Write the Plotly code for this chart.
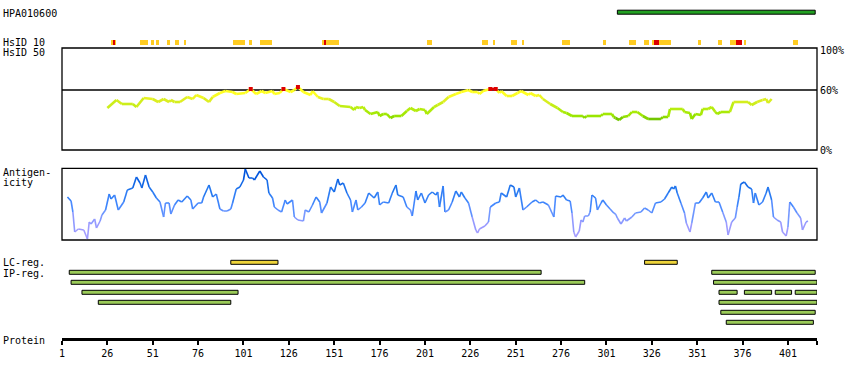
import plotly.graph_objects as go

# ---------------- data ----------------
protein_length = 417
tick_residues = [1, 26, 51, 76, 101, 126, 151, 176, 201, 226, 251, 276, 301, 326, 351, 376, 401]

hpa_name = "HPA010600"
hpa_start = [307]
hpa_end = [416]

hsid10_start = [28, 44, 50, 53, 59, 63, 68, 95, 104, 110, 144, 202, 232.6, 238.7, 248.6,
                254.7, 276.7, 299.3, 313.6, 321.4, 326.3, 351.7, 362.7, 368.8, 376.5, 403.5]
hsid10_end = [31, 48.4, 51.7, 54.5, 60.6, 65.5, 69.4, 101.9, 105.8, 116.8, 153.7, 205, 235.9, 239.8, 251.9,
              255.7, 281.1, 301, 317, 324.2, 336.3, 353.3, 364.4, 375.9, 378.1, 406.3]
hsid10_red_start = [29.1, 145.5, 327.4, 372.6]
hsid10_red_end = [30.2, 146.6, 330.2, 375.4]

hsid50_pos = [26, 31, 34, 40, 42, 46, 51, 54, 57, 60, 61, 63, 66, 70, 73, 75, 79, 82, 84, 88, 91, 95, 97,
              102, 105, 108, 111, 113, 117, 118, 121, 123, 127, 129, 131, 134, 138, 139, 142, 145, 148,
              151, 154, 160, 162, 163, 165, 167, 168, 171, 175, 176, 178, 180, 182, 184, 188, 191, 193,
              196, 198, 201, 202, 206, 208, 211, 214, 218, 221, 225, 227, 230, 231, 233, 237, 240, 242,
              243, 246, 249, 252, 254, 258, 259, 262, 264, 266, 270, 274, 277, 279, 282, 288, 289, 290,
              298, 299, 304, 305, 306, 308, 310, 313, 315, 318, 321, 324, 331, 332, 335, 336, 343, 344,
              347, 348, 350, 353, 354, 357, 359, 361, 362, 364, 369, 371, 379, 381, 384, 387, 389, 390, 392]
hsid50_pct = [42, 50, 46, 46, 43, 52, 51, 48, 51, 48, 50, 48, 48, 53, 51, 55, 52, 48, 53, 57, 59, 58, 56,
              57, 61, 56, 59, 57, 59, 56, 57, 61, 58, 60, 63, 58, 55, 59, 53, 51, 51,
              48, 44, 43, 40, 43, 42, 43, 40, 36, 38, 34, 36, 36, 32, 34, 34, 39, 42,
              39, 41, 40, 36, 43, 45, 48, 53, 56, 58, 60, 58, 58, 56, 59, 61, 61, 57,
              59, 54, 54, 57, 59, 55, 57, 54, 55, 51, 46, 42, 38, 37, 34, 34, 32, 34,
              34, 36, 36, 33, 32, 30, 33, 34, 38, 38, 34, 31, 31, 33, 33, 41, 41, 38,
              37, 31, 36, 35, 41, 41, 43, 38, 36, 38, 38, 48, 48, 45, 48, 50, 51, 47, 51]

antigen_pos = [4, 6, 7, 8, 10, 13, 15, 16, 17, 19, 20, 22, 23, 25, 27, 28, 30, 32, 35, 37, 40, 42, 44, 45,
               47, 49, 51, 53, 55, 57, 58, 60, 61, 63, 65, 67, 70, 72, 73, 76, 78, 79, 82, 84, 86, 88,
               90, 92, 94, 95, 97, 99, 101, 102, 104, 106, 107, 110, 112, 114, 115, 117, 118, 120, 122,
               124, 125, 128, 129, 131, 134, 135, 137, 139, 141, 143, 144, 147, 149, 151, 153, 154, 156,
               158, 160, 161, 163, 164, 166, 168, 170, 173, 175, 176, 178, 181, 183, 185, 186, 189, 191,
               193, 194, 196, 197, 199, 201, 203, 205, 207, 208, 209, 211, 212, 214, 216, 218, 220, 221,
               223, 225, 227, 229, 230, 231, 234, 236, 237, 240, 242, 243, 246, 248, 250, 251, 253, 255,
               257, 260, 262, 264, 266, 269, 272, 273, 276, 277, 279, 281, 282, 283, 284, 286, 287, 288,
               289, 291, 292, 293, 295, 296, 298, 299, 301, 303, 305, 306, 307, 309, 311, 312, 315, 317,
               320, 322, 324, 326, 328, 331, 333, 335, 337, 338, 339, 340, 342, 344, 345, 347, 348, 350,
               352, 354, 356, 357, 359, 361, 363, 365, 367, 368, 370, 372, 373, 374, 375, 377, 379, 381,
               382, 383, 385, 387, 389, 390, 392, 393, 395, 397, 398, 400, 401, 402, 404, 406, 408, 409,
               411, 412]
antigen_val = [43, 39, 28, 8, 11, 10, 1, 18, 16, 21, 12, 19, 25, 30, 46, 41, 45, 30, 38, 50, 52, 63, 57, 52,
               65, 53, 48, 42, 38, 23, 37, 37, 26, 35, 40, 38, 44, 40, 31, 37, 37, 43, 55, 43, 46, 31,
               29, 29, 31, 37, 51, 53, 60, 71, 62, 62, 60, 69, 63, 60, 47, 42, 33, 30, 28,
               40, 36, 40, 23, 20, 19, 30, 28, 35, 43, 38, 27, 37, 53, 48, 61, 55, 57,
               47, 40, 28, 40, 30, 33, 37, 47, 42, 48, 35, 38, 37, 47, 55, 45, 43, 33,
               30, 24, 49, 40, 47, 37, 45, 48, 45, 48, 33, 54, 28, 30, 38, 49, 43, 48,
               42, 37, 23, 10, 7, 11, 14, 18, 33, 37, 38, 47, 43, 55, 53, 43, 52, 30,
               33, 38, 40, 37, 38, 35, 23, 44, 43, 45, 40, 39, 27, 8, 3, 9, 20, 18,
               24, 24, 28, 45, 42, 30, 37, 40, 35, 31, 27, 26, 22, 16, 22, 19, 23, 27,
               28, 32, 30, 27, 37, 38, 41, 47, 53, 51, 54, 47, 37, 27, 17, 8, 17, 37,
               37, 42, 48, 42, 47, 38, 38, 28, 18, 5, 18, 22, 33, 43, 56, 58, 53, 51,
               37, 47, 35, 38, 47, 53, 40, 23, 20, 18, 8, 4, 13, 38, 33, 27, 22, 10,
               18, 19]

lc_start = [94, 322]
lc_end = [120, 340]

ip_row = [1, 1, 2, 2, 3, 3, 3, 3, 3, 4, 4, 5, 6]
ip_start = [5, 359, 6, 360, 12, 363, 377, 394, 405, 21, 363, 364, 367]
ip_end = [265, 416, 289, 417, 98, 373, 392, 403, 417, 94, 417, 416, 415]

pct_ticks = [0, 60, 100]
pct_labels = ["0%", "60%", "100%"]

# ---------------- styling helpers ----------------
FONT = "DejaVu Sans Mono"
W, H = 850, 380


def interp(stops, v):
    if v <= stops[0][0]:
        c = stops[0][1]
    elif v >= stops[-1][0]:
        c = stops[-1][1]
    else:
        for (v0, c0), (v1, c1) in zip(stops[:-1], stops[1:]):
            if v0 <= v <= v1:
                t = (v - v0) / (v1 - v0)
                c = tuple(round(a + (b - a) * t) for a, b in zip(c0, c1))
                break
    return "rgb(%d,%d,%d)" % c


hs_stops = [(30, (0x66, 0xBB, 0x00)), (34, (0x99, 0xE6, 0x00)), (42, (0xBB, 0xEE, 0x11)),
            (50, (0xDD, 0xEE, 0x22)), (56, (0xFF, 0xFF, 0x22)), (60, (0xFF, 0xFF, 0x22))]
ag_stops = [(0, (0xAA, 0xA0, 0xFF)), (15, (0x99, 0x99, 0xFF)), (25, (0x77, 0x99, 0xFF)),
            (35, (0x44, 0x88, 0xFF)), (50, (0x22, 0x77, 0xEE)), (65, (0x00, 0x55, 0xDD))]

fig = go.Figure()

# track rows (track axis: 1 unit = 10 px, 0 at top)
ROW_HPA = 1.22
ROW_H10 = 4.25
ROW_LC = 26.23
ROW_IP0 = 27.23

fig.add_trace(go.Bar(orientation="h", y=[ROW_HPA] * len(hpa_start),
                     x=[e - s for s, e in zip(hpa_start, hpa_end)], base=hpa_start,
                     width=0.4, marker=dict(color="#22A022", line=dict(color="black", width=1)),
                     xaxis="x", yaxis="y"))
fig.add_trace(go.Bar(orientation="h", y=[ROW_H10] * len(hsid10_start),
                     x=[e - s for s, e in zip(hsid10_start, hsid10_end)], base=hsid10_start,
                     width=0.5, marker=dict(color="#FFCC22", line=dict(width=0)),
                     xaxis="x", yaxis="y"))
fig.add_trace(go.Bar(orientation="h", y=[ROW_H10] * len(hsid10_red_start),
                     x=[e - s for s, e in zip(hsid10_red_start, hsid10_red_end)], base=hsid10_red_start,
                     width=0.5, marker=dict(color="#DD0000", line=dict(width=0)),
                     xaxis="x", yaxis="y"))
fig.add_trace(go.Bar(orientation="h", y=[ROW_LC] * len(lc_start),
                     x=[e - s for s, e in zip(lc_start, lc_end)], base=lc_start,
                     width=0.4, marker=dict(color="#EED43A", line=dict(color="black", width=1)),
                     xaxis="x", yaxis="y"))
fig.add_trace(go.Bar(orientation="h", y=[ROW_IP0 + r - 1 for r in ip_row],
                     x=[e - s for s, e in zip(ip_start, ip_end)], base=ip_start,
                     width=0.4, marker=dict(color="#9ACA58", line=dict(color="black", width=1)),
                     xaxis="x", yaxis="y"))

# HsID 50 curve (segment colours by value)
for i in range(len(hsid50_pos) - 1):
    v = (hsid50_pct[i] + hsid50_pct[i + 1]) / 2
    both_red = hsid50_pct[i] > 60.5 and hsid50_pct[i + 1] > 60.5
    col = "#DD0000" if both_red else interp(hs_stops, min(v, 60))
    fig.add_trace(go.Scatter(x=hsid50_pos[i:i + 2], y=hsid50_pct[i:i + 2], mode="lines",
                             line=dict(color=col, width=2.6), xaxis="x", yaxis="y2"))
red_x = [p for p, v in zip(hsid50_pos, hsid50_pct) if v > 60.5]
red_y = [v for v in hsid50_pct if v > 60.5]
fig.add_trace(go.Scatter(x=red_x, y=red_y, mode="markers",
                         marker=dict(color="#DD0000", size=4, symbol="square"), xaxis="x", yaxis="y2"))

# Antigenicity curve
for i in range(len(antigen_pos) - 1):
    v = (antigen_val[i] + antigen_val[i + 1]) / 2
    fig.add_trace(go.Scatter(x=antigen_pos[i:i + 2], y=antigen_val[i:i + 2], mode="lines",
                             line=dict(color=interp(ag_stops, v), width=1.6),
                             xaxis="x", yaxis="y3"))

# ---------------- layout ----------------
tickvals = tick_residues + [protein_length]
ticktext = [str(t) for t in tick_residues] + [""]

fig.update_layout(
    template="none",
    width=W, height=H, margin=dict(l=0, r=0, t=0, b=0, pad=0), autosize=False,
    paper_bgcolor="white", plot_bgcolor="rgba(0,0,0,0)",
    showlegend=False, barmode="overlay", bargap=0, hovermode=False,
    font=dict(family=FONT, size=10, color="black"),
    xaxis=dict(domain=[62 / W, 817 / W], range=[1, protein_length], anchor="free",
               position=1 - 339 / H, showline=True, linecolor="black", linewidth=3,
               ticks="outside", ticklen=4, tickwidth=2, tickcolor="black", automargin=False,
               tickvals=tickvals, ticktext=ticktext, showgrid=False, zeroline=False,
               tickfont=dict(family=FONT, size=10, color="black")),
    yaxis=dict(domain=[0, 1], range=[38, 0], visible=False, automargin=False),
    yaxis2=dict(domain=[1 - 150 / H, 1 - 48 / H], range=[0, 102], anchor="x", side="right",
                tickvals=pct_ticks, ticktext=pct_labels, ticks="", showgrid=False, zeroline=False,
                showline=False, ticklabelstandoff=2, automargin=False,
                tickfont=dict(family=FONT, size=10, color="black")),
    yaxis3=dict(domain=[1 - 240 / H, 1 - 168.3 / H], range=[0, 71.7], visible=False, automargin=False),
)

shapes = [
    dict(type="rect", xref="x domain", yref="y2 domain", x0=0, x1=1, y0=0, y1=1,
         line=dict(color="black", width=1.3), layer="below"),
    dict(type="line", xref="x domain", yref="y2", x0=0, x1=1, y0=60, y1=60,
         line=dict(color="black", width=1.3), layer="below"),
    dict(type="rect", xref="x domain", yref="y3 domain", x0=0, x1=1, y0=0, y1=1,
         line=dict(color="black", width=1.3), layer="below"),
]
fig.update_layout(shapes=shapes)

labels = [(hpa_name, 1.3), ("HsID 10", 4.2), ("HsID 50", 5.2), ("Antigen-", 17.25), ("icity", 18.25),
          ("LC-reg.", 26.25), ("IP-reg.", 27.3), ("Protein", 34.0)]
for txt, yy in labels:
    fig.add_annotation(text=txt, xref="paper", yref="y", x=2 / W, y=yy, xanchor="left",
                       yanchor="middle", showarrow=False, borderpad=0,
                       font=dict(family=FONT, size=10, color="black"))

fig.write_html("out.html", config={"displayModeBar": False, "staticPlot": True},
               post_script="document.body.style.margin='0px';")
